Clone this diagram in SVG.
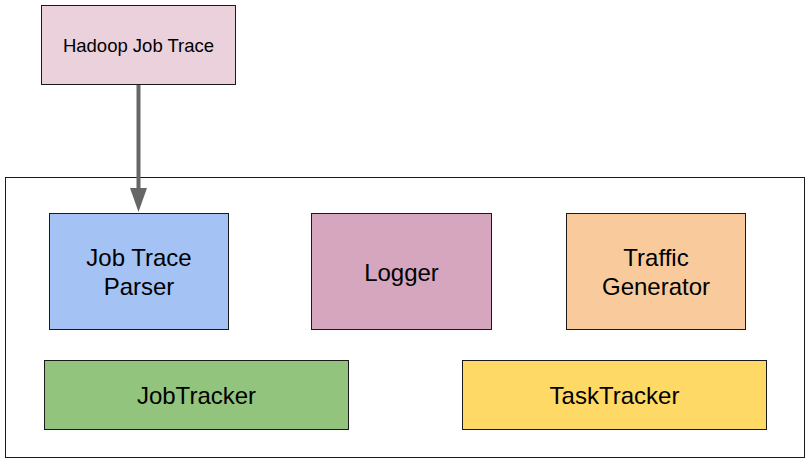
<svg xmlns="http://www.w3.org/2000/svg" width="812" height="465" viewBox="0 0 812 465">
<style>
.box{stroke:#1a1a1a;stroke-width:1}
.lbl{font-family:"Liberation Sans",Arial,sans-serif;font-size:24px;fill:#000;text-anchor:middle}
.sm{font-size:18.5px}
</style>
<rect width="812" height="465" fill="#fff"/>
<g id="container"><rect x="5.5" y="177.5" width="799" height="280" fill="none" stroke="#1a1a1a" stroke-width="1"/></g>
<g id="hadoop-job-trace"><rect class="box" x="41.5" y="5.5" width="194" height="79" fill="#ead1dc"/><text class="lbl sm" x="138.5" y="52">Hadoop Job Trace</text></g>
<g id="job-trace-parser"><rect class="box" x="49.5" y="213.5" width="179" height="116" fill="#a4c2f4"/><text class="lbl" x="139" y="266">Job Trace</text><text class="lbl" x="139" y="294.5">Parser</text></g>
<g id="logger"><rect class="box" x="311.5" y="213.5" width="180" height="116" fill="#d5a6bd"/><text class="lbl" x="401.5" y="280.5">Logger</text></g>
<g id="traffic-generator"><rect class="box" x="566.5" y="213.5" width="179" height="116" fill="#f9cb9c"/><text class="lbl" x="656" y="266">Traffic</text><text class="lbl" x="656" y="294.5">Generator</text></g>
<g id="jobtracker"><rect class="box" x="44.5" y="360.5" width="304" height="69" fill="#93c47d"/><text class="lbl" x="196.5" y="404">JobTracker</text></g>
<g id="tasktracker"><rect class="box" x="462.5" y="360.5" width="304" height="69" fill="#ffd966"/><text class="lbl" x="614.5" y="404">TaskTracker</text></g>
<g id="connectors"><line x1="138.5" y1="85" x2="138.5" y2="190" stroke="#666" stroke-width="4"/><polygon points="130,188 147,188 138.5,212" fill="#666"/></g>
</svg>
